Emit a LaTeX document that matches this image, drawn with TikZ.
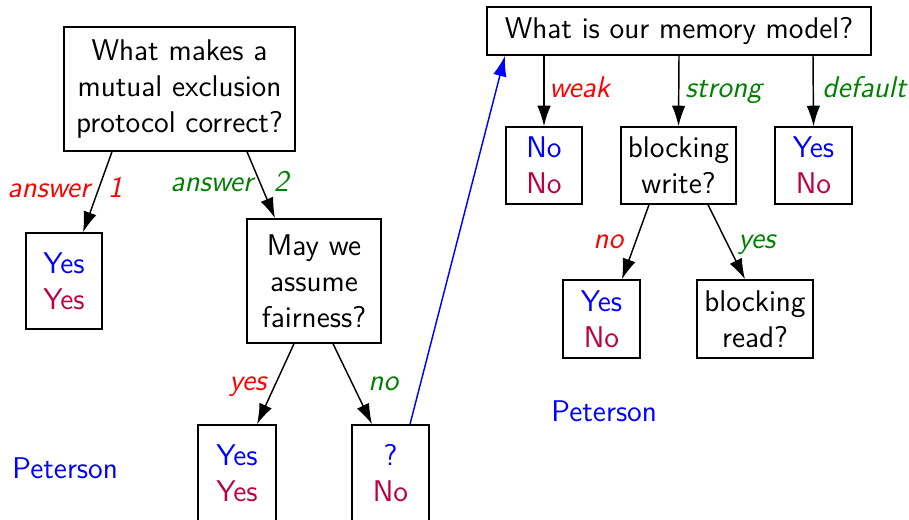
\documentclass[tikz,border=0pt]{standalone}
\usepackage{fontspec}
\usetikzlibrary{arrows.meta,calc}
\definecolor{ansgreen}{rgb}{0,0.5,0}
\begin{document}
\begin{tikzpicture}[x=0.4138pt,y=-0.4138pt,
  every node/.style={font=\sffamily\fontsize{12.4}{14.9}\selectfont},
  box/.style={draw,line width=0.6pt,inner sep=0pt,align=center},
  sz/.style 2 args={minimum width=#1*0.4138pt,minimum height=#2*0.4138pt},
  arr/.style={line width=0.6pt,-{Latex[length=8.5pt,width=5.6pt]}},
  lbl/.style={anchor=base west,inner sep=0pt,font=\sffamily\itshape\fontsize{12.4}{14.9}\selectfont},
  plain/.style={anchor=base west,inner sep=0pt,text=blue},
  ]
\useasboundingbox (0,0) rectangle (909,520);

% first decision tree
\node[box,sz={231}{124}] (q1) at (179.5,89) {What makes a\\mutual exclusion\\protocol correct?};
\node[box,sz={76}{96}] (a1) at (64,281) {\textcolor{blue}{Yes}\\\textcolor{purple}{Yes}};
\node[box,sz={134}{124}] (q2) at (314,281) {May we\\assume\\fairness?};
\node[box,sz={78}{96}] (a2) at (237,473) {\textcolor{blue}{Yes}\\\textcolor{purple}{Yes}};
\node[box,sz={77}{96}] (a3) at (390.5,473) {\textcolor{blue}{?}\\\textcolor{purple}{No}};

\draw[arr] ($(q1.south)+(-67.5,0)$) -- ($(a1.north)+(19,0)$);
\draw[arr] ($(q1.south)+(67.5,0)$) -- ($(q2.north)+(-39,0)$);
\draw[arr] ($(q2.south)+(-20,0)$) -- ($(a2.north)+(20,0)$);
\draw[arr] ($(q2.south)+(19,0)$) -- ($(a3.north)+(-18.5,0)$);

\node[lbl,text=red] (l1) at (7,198) {answer\hspace{0.6em}1};
\node[lbl,text=ansgreen] (l2) at (170,192) {answer\hspace{0.7em}2};
\node[lbl,text=red] (l3) at (229,391) {yes};
\node[lbl,text=ansgreen] (l4) at (368,391) {no};

% second decision tree
\node[box,sz={384}{48}] (q3) at (679,31) {What is our memory model?};
\node[box,sz={76}{77}] (a4) at (544,165.5) {\textcolor{blue}{No}\\\textcolor{purple}{No}};
\node[box,sz={115}{77}] (q4) at (678.5,165.5) {blocking\\write?};
\node[box,sz={77}{77}] (a5) at (813.5,165.5) {\textcolor{blue}{Yes}\\\textcolor{purple}{No}};
\node[box,sz={77}{78}] (a6) at (601.5,319) {\textcolor{blue}{Yes}\\\textcolor{purple}{No}};
\node[box,sz={116}{78}] (q5) at (755,319) {blocking\\read?};

\draw[arr] ($(q3.south)+(-135,0)$) -- (a4.north);
\draw[arr] (q3.south) -- (q4.north);
\draw[arr] ($(q3.south)+(134,0)$) -- (a5.north);
\draw[arr] ($(q4.south)+(-29.5,0)$) -- ($(a6.north)+(20.5,0)$);
\draw[arr] ($(q4.south)+(29.5,0)$) -- ($(q5.north)+(-10,0)$);

\node[lbl,text=red] (l5) at (549,98) {weak};
\node[lbl,text=ansgreen] (l6) at (685,98) {strong};
\node[lbl,text=ansgreen] (l7) at (822,98) {default};
\node[lbl,text=red] (l8) at (593,249) {no};
\node[lbl,text=ansgreen] (l9) at (738,249) {yes};

% link between the trees
\draw[arr,blue] ($(a3.north)+(19.5,0)$) -- ($(q3.south)+(-174,0)$);

\node[plain] (p1) at (12,479) {Peterson};
\node[plain] (p2) at (551,422) {Peterson};
\end{tikzpicture}
\end{document}
